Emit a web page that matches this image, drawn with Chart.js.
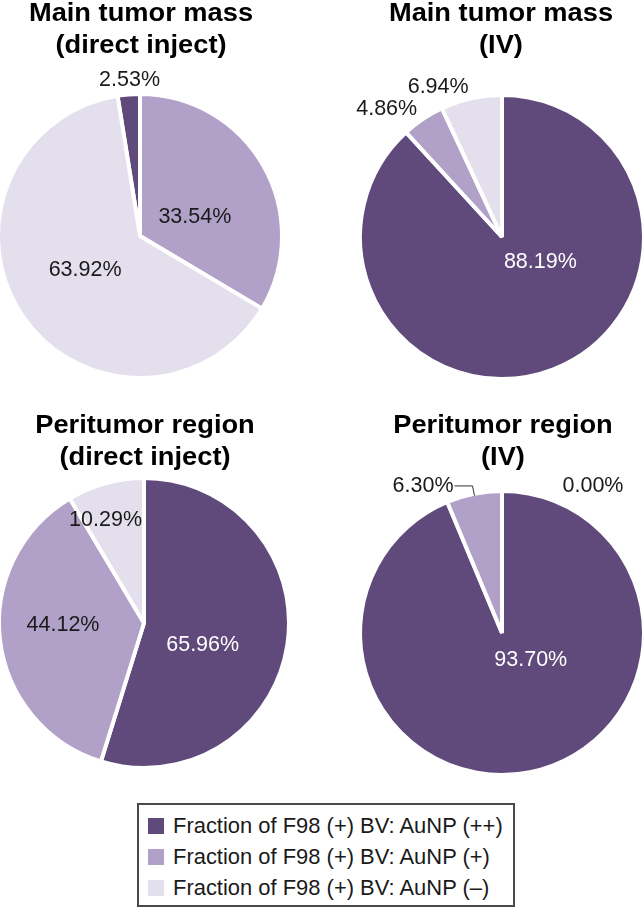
<!DOCTYPE html>
<html>
<head>
<meta charset="utf-8">
<script src="https://cdn.jsdelivr.net/npm/chart.js@4.4.1/dist/chart.umd.min.js"></script>
<style>
  html, body { margin: 0; padding: 0; background: #fff; }
  #page { position: relative; width: 642px; height: 909px; overflow: hidden; font-family: 'Liberation Sans', Arial, sans-serif; color: #000; }
  #page canvas { position: absolute; left: -20px; top: 0; }
  .title { position: absolute; width: 300px; margin-left: -150px; text-align: center; font-weight: bold; font-size: 25px; line-height: 32px; transform: scaleX(1.09); white-space: nowrap; }
  #legend { position: absolute; left: 137px; top: 803px; width: 378px; height: 104px; box-sizing: border-box; border: 2px solid #4a4a4a; background: #fff; }
  #legend .sw { position: absolute; left: 9px; width: 16px; height: 16px; }
  #legend .tx { position: absolute; left: 34px; font-size: 21.5px; line-height: 20px; white-space: nowrap; transform: scaleX(1.02); transform-origin: left center; color: #1a1a1a; }
</style>
</head>
<body>
<div id="page">
  <canvas id="c1" width="682" height="909"></canvas>
  <canvas id="c2" width="682" height="909"></canvas>
  <canvas id="c3" width="682" height="909"></canvas>
  <canvas id="c4" width="682" height="909"></canvas>
  <div id="legend"></div>
</div>
<script>
// data
const categories = [
  'Fraction of F98 (+) BV: AuNP (++)',
  'Fraction of F98 (+) BV: AuNP (+)',
  'Fraction of F98 (+) BV: AuNP (\u2013)'
]
const mainDirect = [2.53, 33.54, 63.92]
const mainIV = [88.19, 4.86, 6.94]
const periDirect = [65.96, 44.12, 10.29]
const periIV = [93.70, 6.30, 0.00]

const colors = ['#604a7b', '#b1a0c7', '#e4dfec']
const BORDER = 4
const SHIFT = 20 // canvases start 20px left of the page

// draws the percentage labels next to / inside each slice
const pieLabels = {
  id: 'pieLabels',
  afterDatasetsDraw(chart, args, opts) {
    const ctx = chart.ctx
    const meta = chart.getDatasetMeta(0)
    const values = chart.data.datasets[0].data
    ctx.save()
    ctx.font = '21.5px "Liberation Sans", Arial, sans-serif'
    ctx.textBaseline = 'middle'
    meta.data.forEach((arc, i) => {
      const p = opts.places[i]
      if (!p) return
      const { x, y, startAngle, endAngle, outerRadius } = arc.getProps(['x', 'y', 'startAngle', 'endAngle', 'outerRadius'], true)
      const mid = (startAngle + endAngle) / 2
      const R = outerRadius - BORDER / 2
      const text = values[i].toFixed(2) + '%'
      ctx.fillStyle = p.color || '#1a1a1a'
      if (p.leader) {
        const ex = x + Math.cos(mid) * R, ey = y + Math.sin(mid) * R
        const bx = x + Math.cos(mid) * (R + 10), by = y + Math.sin(mid) * (R + 10)
        ctx.strokeStyle = '#333'
        ctx.lineWidth = 1
        ctx.beginPath()
        ctx.moveTo(ex, ey)
        ctx.lineTo(bx, by)
        ctx.lineTo(bx - 18, by)
        ctx.stroke()
        ctx.textAlign = 'right'
        ctx.fillText(text, bx - 19, by)
        return
      }
      const r = R * p.f
      ctx.textAlign = 'center'
      ctx.fillText(text, x + Math.cos(mid) * r + p.dx, y + Math.sin(mid) * r + p.dy)
    })
    ctx.restore()
  }
}

const WHITE = '#ffffff'
const panels = [
  { id: 'c1', values: mainDirect, title: ['Main tumor mass', '(direct inject)'], cx: 140, cy: 236, r: 140, tx: 141, ty: -4,
    startAtEnd: true,
    places: [{ f: 1.12, dx: 2, dy: 0 }, { f: 0.5, dx: -6, dy: 16 }, { f: 0.5, dx: 3, dy: -5 }] },
  { id: 'c2', values: mainIV, title: ['Main tumor mass', '(IV)'], cx: 502, cy: 237, r: 140, tx: 501, ty: -4,
    places: [{ f: 0.5, dx: 13, dy: -40, color: WHITE }, { f: 1.2, dx: -22, dy: 12 }, { f: 1.15, dx: -29, dy: 7 }] },
  { id: 'c3', values: periDirect, title: ['Peritumor region', '(direct inject)'], cx: 144, cy: 623, r: 143, tx: 145, ty: 408,
    places: [{ f: 0.5, dx: -12, dy: 11, color: WHITE }, { f: 0.5, dx: -10, dy: -6 }, { f: 0.75, dx: -10, dy: 0 }] },
  { id: 'c4', values: periIV, title: ['Peritumor region', '(IV)'], cx: 502, cy: 633, r: 140, tx: 503, ty: 408,
    places: [{ f: 0.5, dx: 15, dy: -42, color: WHITE }, { leader: true }, { f: 1.05, dx: 91, dy: 0 }] }
]

const page = document.getElementById('page')

panels.forEach(p => {
  const canvas = document.getElementById(p.id)
  const half = p.r + BORDER
  const total = p.values.reduce((a, b) => a + b, 0)
  // first panel: the (++) slice ends at 12 o'clock instead of starting there
  const rotation = p.startAtEnd ? -p.values[0] / total * 360 : 0

  new Chart(canvas, {
    type: 'pie',
    data: {
      labels: categories,
      datasets: [{ data: p.values, backgroundColor: colors, borderColor: '#ffffff', borderWidth: BORDER }]
    },
    options: {
      responsive: false,
      animation: false,
      rotation,
      layout: {
        padding: {
          left: p.cx + SHIFT - half,
          right: canvas.width - (p.cx + SHIFT) - half,
          top: p.cy - half,
          bottom: canvas.height - p.cy - half
        }
      },
      plugins: {
        legend: { display: false },
        tooltip: { enabled: false },
        pieLabels: { places: p.places }
      }
    },
    plugins: [pieLabels]
  })

  const t = document.createElement('div')
  t.className = 'title'
  t.style.left = p.tx + 'px'
  t.style.top = p.ty + 'px'
  t.innerHTML = p.title.join('<br>')
  page.appendChild(t)
})

// legend box
const legend = document.getElementById('legend')
categories.forEach((c, i) => {
  const sw = document.createElement('div')
  sw.className = 'sw'
  sw.style.top = (13 + i * 31) + 'px'
  sw.style.background = colors[i]
  legend.appendChild(sw)
  const tx = document.createElement('div')
  tx.className = 'tx'
  tx.style.top = (11 + i * 31) + 'px'
  tx.textContent = c
  legend.appendChild(tx)
})
</script>
</body>
</html>
